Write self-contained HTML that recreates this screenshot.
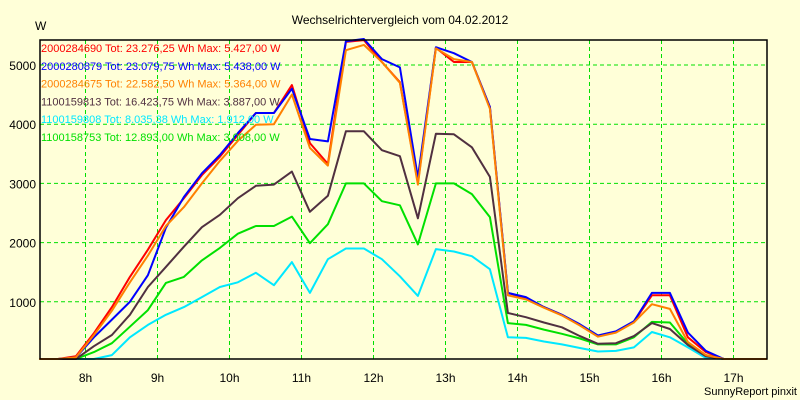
<!DOCTYPE html>
<html><head><meta charset="utf-8"><style>
body{margin:0;background:#ffffd8;}
svg{display:block;font-family:"Liberation Sans",sans-serif;}
</style></head><body>
<svg id="c" width="800" height="400">
<rect x="0" y="0" width="800" height="400" fill="#ffffd8"/>
<text x="400" y="24" font-size="12" text-anchor="middle">Wechselrichtervergleich vom 04.02.2012</text>
<text x="35" y="30" font-size="12">W</text>
<text x="797" y="395" font-size="11" text-anchor="end">SunnyReport pinxit</text>
<g id="grid"></g><g id="series"></g><g id="axes"></g><g id="legend"></g>
</svg>
<script>
const yTicks=[1000,2000,3000,4000,5000];
const xTickLabels=["8h","9h","10h","11h","12h","13h","14h","15h","16h","17h"];
const xTickHours=[8,9,10,11,12,13,14,15,16,17];
const seriesNames=["2000284690 Tot: 23.276,25 Wh Max: 5.427,00 W","2000280879 Tot: 23.079,75 Wh Max: 5.438,00 W","2000284675 Tot: 22.582,50 Wh Max: 5.364,00 W","1100159813 Tot: 16.423,75 Wh Max: 3.887,00 W","1100159808 Tot: 8.035,38 Wh Max: 1.912,00 W","1100158753 Tot: 12.893,00 Wh Max: 3.008,00 W"];
const seriesColors=["#ff0000","#0000ff","#ff8000","#503040","#00e8ff","#00e000"];
const red=[0,0,80,470,910,1420,1880,2380,2750,3140,3450,3820,4190,4190,4660,3680,3330,5390,5420,5050,4710,3010,5290,5050,5050,4290,1150,1060,910,780,610,420,490,660,1110,1110,400,150,0,0,0];
const blue=[0,0,60,400,700,1000,1450,2250,2770,3170,3480,3850,4190,4190,4600,3750,3710,5400,5440,5100,4960,3100,5300,5200,5050,4290,1150,1080,910,780,620,430,500,670,1150,1150,480,170,0,0,0];
const orange=[0,0,60,440,850,1330,1780,2280,2600,3000,3380,3720,3990,4000,4500,3600,3300,5250,5340,5050,4700,2980,5280,5100,5050,4260,1110,1040,900,770,600,410,480,650,960,880,320,100,0,0,0];
const dark=[0,0,30,250,440,780,1250,1590,1930,2260,2470,2750,2960,2980,3200,2520,2790,3880,3880,3560,3460,2410,3840,3830,3610,3110,810,740,650,570,420,290,300,420,640,540,270,80,0,0,0];
const cyan=[0,0,0,0,100,400,610,780,910,1080,1250,1330,1490,1280,1670,1150,1720,1900,1900,1720,1430,1100,1890,1850,1770,1550,400,390,330,280,220,160,170,230,490,400,230,50,0,0,0];
const green=[0,0,20,150,300,580,860,1320,1420,1700,1910,2150,2280,2280,2440,1990,2310,3000,3000,2700,2630,1970,3000,3000,2820,2430,640,610,530,460,380,280,280,400,660,650,290,100,0,0,0];
const seriesData=[red,blue,orange,dark,cyan,green];
const startHour=7+22/60, stepHour=0.25;
const L=40,R=767,T=40,B=359;
const xs=h=>85.5+72*(h-8);
const ys=v=>361-v*0.0592;
const NS="http://www.w3.org/2000/svg";
function mk(t,a,p){const e=document.createElementNS(NS,t);for(const k in a)e.setAttribute(k,a[k]);p.appendChild(e);return e;}
const grid=document.getElementById('grid'),axes=document.getElementById('axes'),ser=document.getElementById('series'),leg=document.getElementById('legend');
yTicks.forEach(v=>{const y=ys(v);
const l=mk('line',{x1:L,x2:R,y1:y,y2:y,stroke:'#00e000','stroke-dasharray':'4,3'},grid);


const t=mk('text',{x:36,y:y+5,'font-size':12,'text-anchor':'end'},axes);t.textContent=v;

});
xTickHours.forEach((h,i)=>{const x=xs(h);
const l=mk('line',{x1:x,x2:x,y1:T,y2:B,stroke:'#00e000','stroke-dasharray':'4,3'},grid);


const t=mk('text',{x:x,y:382,'font-size':12,'text-anchor':'middle'},axes);t.textContent=xTickLabels[i];

});
const order=[4,5,3,0,1,2];
order.forEach(si=>{const d=seriesData[si];
let pts=d.map((v,k)=>xs(startHour+k*stepHour).toFixed(1)+','+Math.min(ys(v),B).toFixed(1)).join(' ');
if(si===2) pts=L+','+B+' '+pts+' '+R+','+B;
const p=mk('polyline',{points:pts,fill:'none',stroke:seriesColors[si],'stroke-width':2,'stroke-linejoin':'round'},ser);

});
const f=mk('rect',{x:L,y:T,width:R-L,height:B-T,fill:'none',stroke:'#000','stroke-width':1.5},axes);


seriesNames.forEach((n,i)=>{const t=mk('text',{x:41,y:52+i*17.8,'font-size':11,fill:seriesColors[i]},leg);t.textContent=n;

});
</script>
</body></html>
